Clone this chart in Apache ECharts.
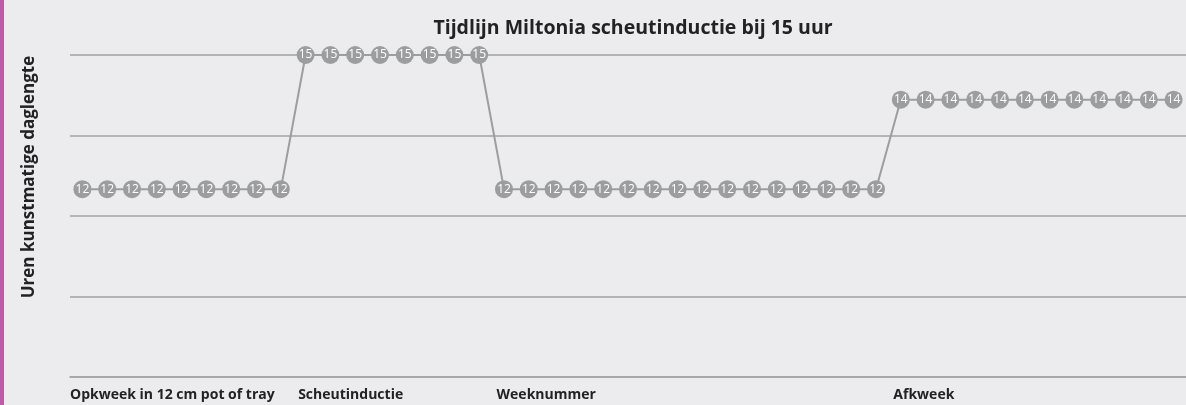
<!DOCTYPE html>
<html>
<head>
<meta charset="utf-8">
<script src="https://cdn.jsdelivr.net/npm/echarts@6/dist/echarts.min.js"></script>
<style>
    html, body { margin: 0; padding: 0; background: #ececee; }
    #chart { width: 1186px; height: 405px; }
</style>
</head>
<body>
<div id="chart"></div>
<script>
// fases onderaan de tijdlijn en de week waarin ze beginnen
const phaseNames = ['Opkweek in 12 cm pot of tray', 'Scheutinductie', 'Weeknummer', 'Afkweek'];
const phaseStart = [0, 9, 17, 33];

// uren kunstmatige daglengte per week
const hours = [
    12, 12, 12, 12, 12, 12, 12, 12, 12,
    15, 15, 15, 15, 15, 15, 15, 15,
    12, 12, 12, 12, 12, 12, 12, 12, 12, 12, 12, 12, 12, 12, 12, 12,
    14, 14, 14, 14, 14, 14, 14, 14, 14, 14, 14, 14
];

const titleText = 'Tijdlijn Miltonia scheutinductie bij 15 uur';
const yName = 'Uren kunstmatige daglengte';

const gridColor = '#a2a2a4';
const dotColor = '#9c9d9f';

// labels staan net rechts van het begin van de fase
const labelPos = phaseStart.map(i => i === 0 ? -0.5 : i - 0.3);

const myChart = echarts.init(document.getElementById('chart'));

const option = {
    backgroundColor: '#ececee',
    animation: false,
    title: {
        text: titleText,
        left: 628,
        top: 13,
        textAlign: 'center',
        textStyle: {
            fontFamily: 'Open Sans',
            fontSize: 19.5,
            fontWeight: 'bold',
            color: '#222'
        }
    },
    graphic: [
        {
            type: 'rect',
            shape: { x: 0, y: 0, width: 4, height: 405 },
            style: { fill: '#c05aa7' }
        },
        {
            type: 'text',
            x: 29,
            y: 177,
            rotation: Math.PI / 2,
            style: {
                text: yName,
                fontFamily: 'Open Sans',
                fontSize: 17,
                fontWeight: 'bold',
                fill: '#222',
                align: 'center',
                verticalAlign: 'middle'
            }
        }
    ],
    grid: {
        left: 70,
        right: -2,
        top: 55,
        bottom: 28
    },
    xAxis: {
        type: 'value',
        min: -0.5,
        max: hours.length - 0.5,
        splitLine: { show: false },
        axisTick: { show: false },
        axisLine: { show: true, lineStyle: { color: gridColor, width: 1.5 } },
        axisLabel: {
            customValues: labelPos,
            formatter: (v) => {
                const idx = labelPos.findIndex(p => Math.abs(p - v) < 0.01);
                return idx >= 0 ? phaseNames[idx] : '';
            },
            align: 'left',
            margin: 11,
            fontFamily: 'Open Sans',
            fontSize: 14,
            fontWeight: 'bold',
            color: '#222'
        }
    },
    yAxis: {
        type: 'value',
        min: 7.8,
        max: 15,
        interval: 1.8,
        axisLine: { show: false },
        axisTick: { show: false },
        axisLabel: { show: false },
        splitLine: { lineStyle: { color: gridColor, width: 1.5 } }
    },
    series: [{
        type: 'line',
        data: hours.map((v, i) => [i, v]),
        symbol: 'circle',
        symbolSize: 18,
        lineStyle: { color: dotColor, width: 2 },
        itemStyle: { color: dotColor },
        label: {
            show: true,
            position: 'inside',
            formatter: (p) => p.value[1],
            color: '#fff',
            fontFamily: 'Open Sans',
            fontSize: 12,
            letterSpacing: -0.8
        },
        z: 3
    }]
};

myChart.setOption(option, true);
</script>
</body>
</html>
